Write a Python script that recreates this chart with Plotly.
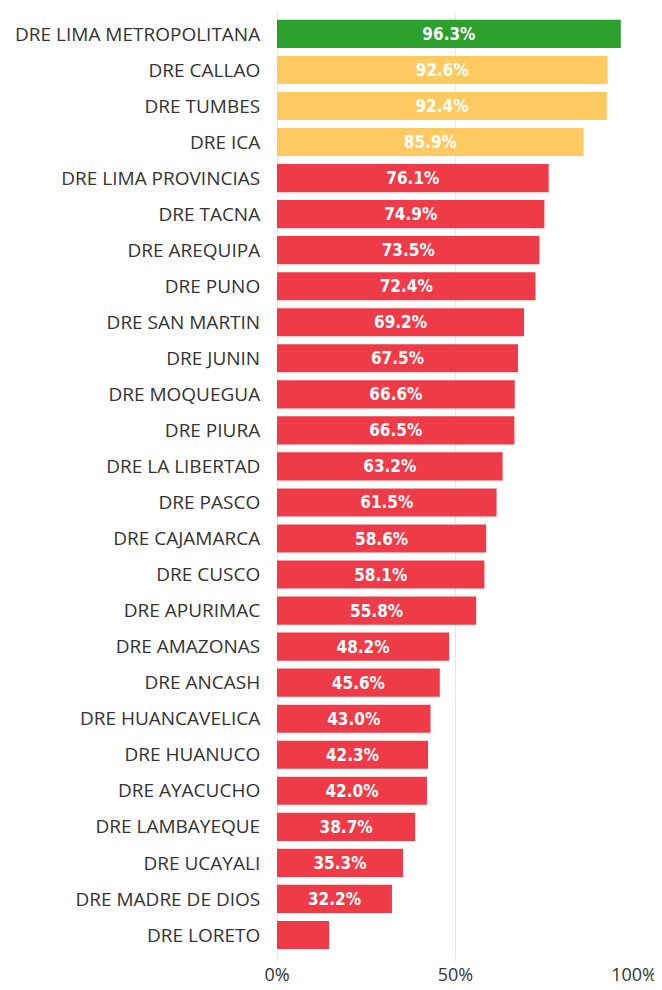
import plotly.graph_objects as go

categories = [
    "DRE LIMA METROPOLITANA", "DRE CALLAO", "DRE TUMBES", "DRE ICA",
    "DRE LIMA PROVINCIAS", "DRE TACNA", "DRE AREQUIPA", "DRE PUNO",
    "DRE SAN MARTIN", "DRE JUNIN", "DRE MOQUEGUA", "DRE PIURA",
    "DRE LA LIBERTAD", "DRE PASCO", "DRE CAJAMARCA", "DRE CUSCO",
    "DRE APURIMAC", "DRE AMAZONAS", "DRE ANCASH", "DRE HUANCAVELICA",
    "DRE HUANUCO", "DRE AYACUCHO", "DRE LAMBAYEQUE", "DRE UCAYALI",
    "DRE MADRE DE DIOS", "DRE LORETO",
]
values = [96.3, 92.6, 92.4, 85.9, 76.1, 74.9, 73.5, 72.4, 69.2, 67.5, 66.6,
          66.5, 63.2, 61.5, 58.6, 58.1, 55.8, 48.2, 45.6, 43.0, 42.3, 42.0,
          38.7, 35.3, 32.2, 14.6]
labels = ["96.3%", "92.6%", "92.4%", "85.9%", "76.1%", "74.9%", "73.5%",
          "72.4%", "69.2%", "67.5%", "66.6%", "66.5%", "63.2%", "61.5%",
          "58.6%", "58.1%", "55.8%", "48.2%", "45.6%", "43.0%", "42.3%",
          "42.0%", "38.7%", "35.3%", "32.2%", ""]
tick_vals = [0, 50, 100]
tick_text = ["0%", "50%", "100%"]

GREEN = "#2BA02D"
YELLOW = "#FDCA62"
RED = "#EF3A47"
colors = [GREEN if v >= 95 else (YELLOW if v >= 80 else RED) for v in values]

fig = go.Figure(go.Bar(
    x=values, y=categories, orientation="h",
    marker=dict(color=colors, line=dict(width=0)),
    text=labels, textposition="inside", insidetextanchor="middle",
    textfont=dict(family="DejaVu Sans Condensed", size=17, color="white",
                  weight="bold"),
    textangle=0, cliponaxis=False,
))

fig.update_layout(
    width=654, height=982,
    margin=dict(l=269, r=28, t=5, b=28, autoexpand=False),
    paper_bgcolor="white", plot_bgcolor="white",
    bargap=0.22,
    showlegend=False,
    font=dict(family="Open Sans", color="#333333"),
)
fig.update_yaxes(
    categoryorder="array", categoryarray=categories[::-1],
    range=[-0.75, 25.58],
    tickfont=dict(family="Open Sans", size=19, color="#333333"),
    ticks="outside", ticklen=12, tickcolor="rgba(0,0,0,0)",
    showgrid=False, showline=False, zeroline=False,
)
fig.update_xaxes(
    range=[0, 100], tickvals=tick_vals, ticktext=tick_text,
    tickfont=dict(family="Open Sans", size=18, color="#333333"),
    showgrid=True, gridcolor="#E6E6E6", gridwidth=1,
    zeroline=True, zerolinecolor="#E6E6E6", zerolinewidth=1,
    showline=False, ticks="",
)

fig.write_html("out.html")
